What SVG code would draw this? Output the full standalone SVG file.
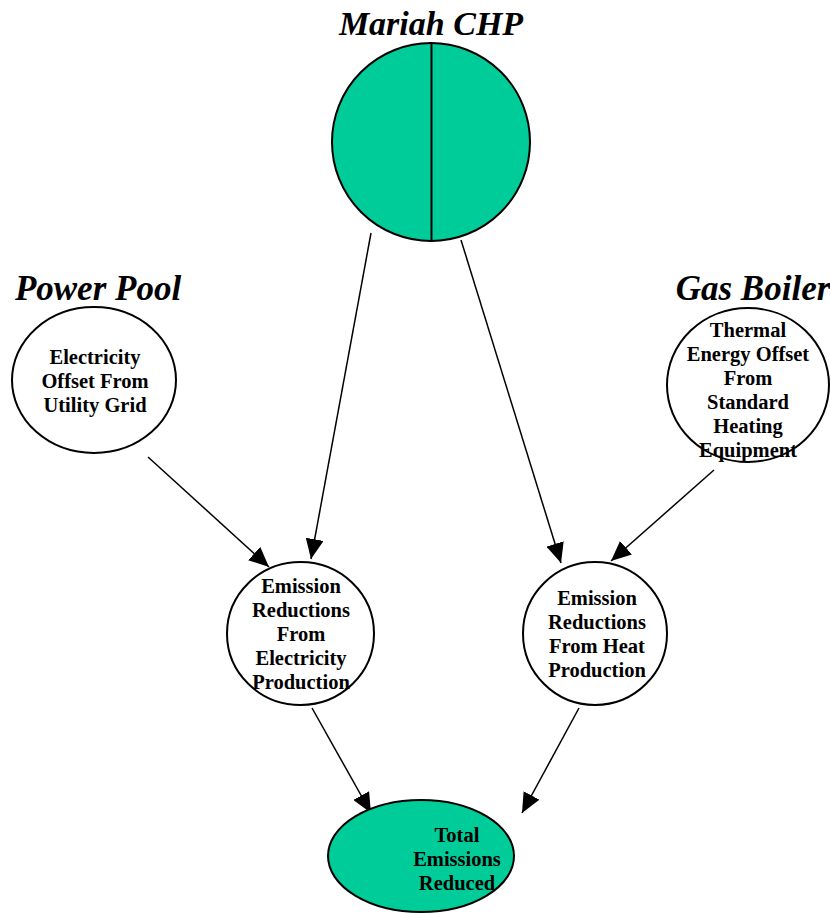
<svg xmlns="http://www.w3.org/2000/svg" width="830" height="913" viewBox="0 0 830 913">
<defs>
<style>
.title{font-family:"Liberation Serif","Times New Roman",serif;font-weight:bold;font-style:italic;font-size:34px;fill:#000;text-anchor:middle}
.t35{font-size:35px}
.lbl{font-family:"Liberation Serif","Times New Roman",serif;font-weight:bold;font-size:20.5px;fill:#000;text-anchor:middle}
.wn{fill:#fff;stroke:#000;stroke-width:2}
.gn{fill:#00cc99;stroke:#000;stroke-width:2}
.edge{stroke:#000;stroke-width:1.5;fill:none;marker-end:url(#ah)}
</style>
<marker id="ah" markerUnits="userSpaceOnUse" markerWidth="22" markerHeight="18" refX="20" refY="9" orient="auto">
<path d="M0,0 L20,9 L0,18 Z" fill="#000"/>
</marker>
</defs>
<rect width="830" height="913" fill="#fff"/>
<g id="connectors">
<line class="edge" x1="371" y1="233" x2="311" y2="559"/>
<line class="edge" x1="461" y1="240" x2="561" y2="563"/>
<line class="edge" x1="148" y1="457" x2="269" y2="567"/>
<line class="edge" x1="714" y1="470" x2="611" y2="561"/>
<line class="edge" x1="312" y1="708" x2="371" y2="813"/>
<line class="edge" x1="579" y1="708" x2="522" y2="813"/>
</g>
<g id="mariah">
<text class="title" x="431" y="35">Mariah CHP</text>
<circle class="gn" cx="431" cy="142" r="99"/>
<line x1="431.5" y1="43" x2="431.5" y2="241" stroke="#000" stroke-width="2"/>
</g>
<g id="powerpool">
<text class="title t35" x="98" y="300">Power Pool</text>
<ellipse class="wn" cx="94" cy="380" rx="82" ry="73"/>
<text class="lbl" x="95" y="364">Electricity</text>
<text class="lbl" x="95" y="388">Offset From</text>
<text class="lbl" x="95" y="412">Utility Grid</text>
</g>
<g id="gasboiler">
<text class="title t35" x="753" y="300">Gas Boiler</text>
<ellipse class="wn" cx="748" cy="385" rx="81" ry="77"/>
<text class="lbl" x="748" y="337">Thermal</text>
<text class="lbl" x="748" y="361">Energy Offset</text>
<text class="lbl" x="748" y="385">From</text>
<text class="lbl" x="748" y="409">Standard</text>
<text class="lbl" x="748" y="433">Heating</text>
<text class="lbl" x="748" y="457">Equipment</text>
</g>
<g id="emelec">
<ellipse class="wn" cx="300.5" cy="633.5" rx="73.5" ry="71.5"/>
<text class="lbl" x="301" y="593">Emission</text>
<text class="lbl" x="301" y="617">Reductions</text>
<text class="lbl" x="301" y="641">From</text>
<text class="lbl" x="301" y="665">Electricity</text>
<text class="lbl" x="301" y="689">Production</text>
</g>
<g id="emheat">
<ellipse class="wn" cx="595" cy="633.5" rx="72" ry="71.5"/>
<text class="lbl" x="597" y="605">Emission</text>
<text class="lbl" x="597" y="629">Reductions</text>
<text class="lbl" x="597" y="653">From Heat</text>
<text class="lbl" x="597" y="677">Production</text>
</g>
<g id="total">
<ellipse class="gn" cx="421" cy="856" rx="93" ry="56"/>
<text class="lbl" x="457" y="842">Total</text>
<text class="lbl" x="457" y="866">Emissions</text>
<text class="lbl" x="457" y="890">Reduced</text>
</g>
</svg>
